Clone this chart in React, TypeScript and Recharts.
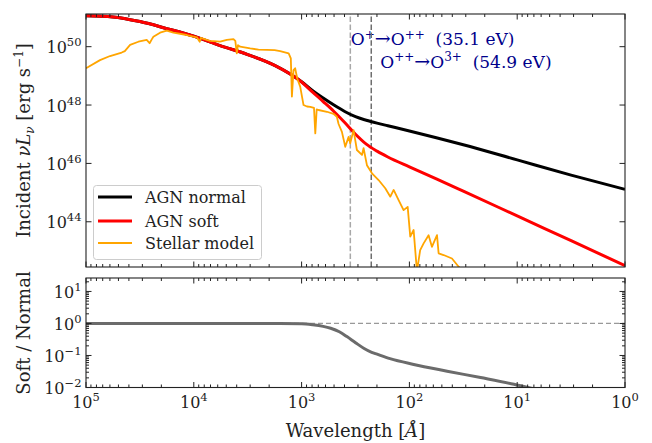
import React from "react";
import { LineChart, Line, XAxis, YAxis, ReferenceLine, Legend } from "recharts";

const FONT = "'DejaVu Serif', serif";

// log10 wavelength [Å] and log10 nuL_nu [erg/s]
const agnLogWave = [5.0, 4.75, 4.5, 4.25, 4.0, 3.75, 3.5, 3.25, 3.0, 2.9, 2.8, 2.7, 2.6, 2.5, 2.4, 2.3, 2.2, 2.0, 1.75, 1.5, 1.0, 0.5, 0.0];
const agnNormal = [51.06, 51.02, 50.86, 50.62, 50.36, 50.03, 49.73, 49.36, 48.8, 48.5, 48.24, 48.0, 47.78, 47.6, 47.48, 47.38, 47.29, 47.11, 46.88, 46.64, 46.12, 45.6, 45.11];
const agnSoft = [51.06, 51.02, 50.86, 50.62, 50.36, 50.03, 49.73, 49.36, 48.79, 48.45, 48.12, 47.78, 47.4, 47.0, 46.66, 46.42, 46.22, 45.88, 45.47, 45.05, 44.2, 43.35, 42.5];

const stellarLogWave = [5.0, 4.87, 4.777, 4.669, 4.64, 4.591, 4.514, 4.437, 4.41, 4.39, 4.375, 4.313, 4.251, 4.189, 4.065, 3.972, 3.945, 3.935, 3.879, 3.849, 3.755, 3.694, 3.632, 3.615, 3.601, 3.59, 3.57, 3.477, 3.4, 3.322, 3.25, 3.199, 3.12, 3.1, 3.09, 3.075, 3.06, 3.04, 3.013, 2.982, 2.95, 2.92, 2.885, 2.873, 2.86, 2.843, 2.765, 2.704, 2.673, 2.657, 2.626, 2.595, 2.564, 2.549, 2.518, 2.487, 2.44, 2.425, 2.394, 2.347, 2.286, 2.224, 2.177, 2.146, 2.1, 2.054, 2.016, 1.992, 1.961, 1.93, 1.9, 1.868, 1.822, 1.791, 1.744, 1.729, 1.683, 1.605, 1.543, 1.45];
const stellarLogL = [49.26, 49.54, 49.68, 49.8, 49.85, 50.06, 50.17, 50.23, 50.12, 50.25, 50.34, 50.48, 50.55, 50.48, 50.4, 50.32, 50.17, 50.3, 50.23, 50.2, 50.17, 50.23, 50.26, 50.2, 49.77, 50.05, 50.0, 49.94, 49.9, 49.89, 49.88, 49.85, 49.77, 49.6, 48.29, 49.2, 49.26, 48.9, 48.63, 48.0, 47.95, 47.94, 47.9, 47.03, 47.85, 47.83, 47.77, 47.7, 47.6, 47.35, 47.08, 46.57, 46.91, 46.69, 47.14, 46.46, 46.29, 46.52, 45.94, 45.66, 45.43, 45.15, 44.86, 45.09, 44.74, 44.4, 44.51, 43.49, 43.72, 42.3, 43.03, 43.26, 43.54, 43.14, 43.54, 42.92, 42.86, 42.74, 42.46, 42.1];

// soft / normal ratio (log10)
const ratioLogWave = [5.0, 4.0, 3.5, 3.2, 3.0, 2.9, 2.8, 2.73, 2.65, 2.58, 2.5, 2.42, 2.35, 2.3, 2.18, 1.96, 1.65, 1.34, 1.03, 0.9, 0.5, 0.0];
const ratioLog = [0, 0, 0, 0, -0.01, -0.04, -0.09, -0.15, -0.26, -0.41, -0.6, -0.78, -0.9, -0.96, -1.1, -1.28, -1.49, -1.69, -1.9, -2.0, -2.25, -2.6];

// ionisation edges
const edgeEnergies = [35.1, 54.9];
const HC = 12398.4; // eV Å

const seriesNames = ["AGN normal", "AGN soft", "Stellar model"];
const seriesColors = ["#000000", "#ff0000", "#ffa500"];

const toSeries = (lw: number[], ly: number[]) =>
  lw.map((w, i) => ({ wave: 10 ** w, value: 10 ** ly[i] }));

const normalData = toSeries(agnLogWave, agnNormal);
const softData = toSeries(agnLogWave, agnSoft);
const stellarData = toSeries(stellarLogWave, stellarLogL);
const ratioData = toSeries(ratioLogWave, ratioLog);

const xMajor = [1e5, 1e4, 1e3, 1e2, 1e1, 1];
const xTicks: number[] = [...xMajor];
for (let n = 0; n < 5; n++) for (let m = 2; m <= 9; m++) xTicks.push(m * 10 ** n);

const topYTicks = [1e44, 1e46, 1e48, 1e50];
const botYMajor = [1e-2, 1e-1, 1, 10];
const botYTicks: number[] = [...botYMajor];
for (let n = -2; n <= 1; n++) for (let m = 2; m <= 9; m++) if (m * 10 ** n < 26) botYTicks.push(m * 10 ** n);

const xDomain = [1, 1e5];
const topYDomain = [10 ** 42.45, 10 ** 51.12];
const botYDomain = [1e-2, 10 ** 1.42];

const expText = (v: number) => {
  const e = Math.round(Math.log10(v));
  return e < 0 ? "\u2212" + -e : String(e);
};

const makeTick = (side: "bottom" | "top" | "left" | "right", label: boolean) => (props: any) => {
  const { x, y, payload } = props;
  const v = payload.value;
  const e = Math.log10(v);
  const major = Math.abs(e - Math.round(e)) < 1e-6;
  const len = major ? 5.5 : 3;
  const st = { stroke: "#222", strokeWidth: 1 };
  let ln;
  if (side === "bottom") ln = <line x1={x} x2={x} y1={y} y2={y - len} {...st} />;
  else if (side === "top") ln = <line x1={x} x2={x} y1={y} y2={y + len} {...st} />;
  else if (side === "left") ln = <line x1={x} x2={x + len} y1={y} y2={y} {...st} />;
  else ln = <line x1={x} x2={x - len} y1={y} y2={y} {...st} />;
  let txt = null;
  if (label && major) {
    if (side === "bottom")
      txt = (
        <text x={x} y={y + 20.5} textAnchor="middle" fontFamily={FONT} fontSize={16} fill="#222">
          10<tspan dy={-7} fontSize={11.5}>{expText(v)}</tspan>
        </text>
      );
    else
      txt = (
        <text x={x - 4.5} y={y + 6.5} textAnchor="end" fontFamily={FONT} fontSize={16} fill="#222">
          10<tspan dy={-7} fontSize={11.5}>{expText(v)}</tspan>
        </text>
      );
  }
  return (
    <g>
      {ln}
      {txt}
    </g>
  );
};

const edgeLabel = (i: number) => (p: any) => {
  const vb = p.viewBox || {};
  const dx = i === 0 ? 0.5 : 9;
  const dy = i === 0 ? 31 : 53.7;
  const [a, b] = i === 0 ? ["+", "++"] : ["++", "3+"];
  return (
    <text x={vb.x + dx} y={vb.y + dy} fontFamily={FONT} fontSize={17} fill="darkblue">
      O<tspan dy={-6.5} fontSize={12}>{a}</tspan>
      <tspan dy={6.5} fontSize={19}>{"\u2192"}</tspan>
      <tspan>O</tspan>
      <tspan dy={-6.5} fontSize={12}>{b}</tspan>
      <tspan dy={6.5}>{`\u00a0 (${edgeEnergies[i]} eV)`}</tspan>
    </text>
  );
};

const LegendBox = () => (
  <svg width={170} height={76} style={{ display: "block" }}>
    <rect x={0.5} y={0.5} width={168} height={74} rx={3} fill="#fff" fillOpacity={0.8} stroke="#cccccc" />
    {seriesNames.map((n, i) => {
      const cy = [12, 36, 58][i];
      return (
        <g key={n}>
          <line x1={5} x2={39} y1={cy} y2={cy} stroke={seriesColors[i]} strokeWidth={i === 2 ? 2 : 3} />
          <text x={52} y={cy + 5.5} fontFamily={FONT} fontSize={16} fill="#222">
            {n}
          </text>
        </g>
      );
    })}
  </svg>
);

const axisCommon = { tickSize: 0, tickMargin: 0, tickLine: false, axisLine: false, interval: 0 as const, allowDataOverflow: true };

export default function App() {
  return (
    <div style={{ position: "absolute", left: 0, top: 0, width: 652, height: 443, background: "#fff" }}>
      <div style={{ position: "absolute", left: 0, top: 0 }}>
        <LineChart width={652} height={272} margin={{ top: 13, right: 26, bottom: 4, left: 85 }}>
          <XAxis type="number" dataKey="wave" scale="log" domain={xDomain} reversed ticks={xTicks} height={1}
            {...axisCommon} tick={makeTick("bottom", false)} />
          <XAxis xAxisId="top" orientation="top" type="number" dataKey="wave" scale="log" domain={xDomain} reversed
            ticks={xTicks} height={1} {...axisCommon} tick={makeTick("top", false)} />
          <YAxis type="number" scale="log" domain={topYDomain} ticks={topYTicks} width={1}
            {...axisCommon} tick={makeTick("left", true)} />
          <YAxis yAxisId="right" orientation="right" type="number" scale="log" domain={topYDomain} ticks={topYTicks}
            width={1} {...axisCommon} tick={makeTick("right", false)} />
          {edgeEnergies.map((E, i) => (
            <ReferenceLine key={E} x={HC / E} stroke={i === 0 ? "#a8a8a8" : "#6e6e6e"} strokeWidth={1.5}
              strokeDasharray="5.5 2.4" label={edgeLabel(i)} />
          ))}
          <Line data={normalData} dataKey="value" name={seriesNames[0]} type="monotoneX" stroke={seriesColors[0]}
            strokeWidth={3} dot={false} isAnimationActive={false} />
          <Line data={softData} dataKey="value" name={seriesNames[1]} type="monotoneX" stroke={seriesColors[1]}
            strokeWidth={3} dot={false} isAnimationActive={false} />
          <Line data={stellarData} dataKey="value" name={seriesNames[2]} stroke={seriesColors[2]} strokeWidth={1.8}
            strokeLinejoin="round" dot={false} isAnimationActive={false} />
          <Legend layout="vertical" align="center" verticalAlign="middle" content={() => <LegendBox />}
            wrapperStyle={{ left: 93, top: 185, width: 170, height: 76 }} />
        </LineChart>
      </div>
      <div style={{ position: "absolute", left: 0, top: 272 }}>
        <LineChart width={652} height={171} margin={{ top: 5, right: 26, bottom: 54.5, left: 85 }}>
          <XAxis type="number" dataKey="wave" scale="log" domain={xDomain} reversed ticks={xTicks} height={1}
            {...axisCommon} tick={makeTick("bottom", true)} />
          <XAxis xAxisId="top" orientation="top" type="number" dataKey="wave" scale="log" domain={xDomain} reversed
            ticks={xTicks} height={1} {...axisCommon} tick={makeTick("top", false)} />
          <YAxis type="number" scale="log" domain={botYDomain} ticks={botYTicks} width={1}
            {...axisCommon} tick={makeTick("left", true)} />
          <YAxis yAxisId="right" orientation="right" type="number" scale="log" domain={botYDomain} ticks={botYTicks}
            width={1} {...axisCommon} tick={makeTick("right", false)} />
          <ReferenceLine y={1} stroke="#999" strokeWidth={1.2} strokeDasharray="5 3" />
          <Line data={ratioData} dataKey="value" name="Soft / Normal" type="monotoneX" stroke="#6b6b6b"
            strokeWidth={3} dot={false} isAnimationActive={false} />
        </LineChart>
      </div>
      <svg width={652} height={443} style={{ position: "absolute", left: 0, top: 0, pointerEvents: "none" }}>
        <rect x={86} y={14} width={539} height={253} fill="none" stroke="#222" strokeWidth={1.1} />
        <rect x={86} y={278} width={539} height={109.5} fill="none" stroke="#222" strokeWidth={1.1} />
        <text transform="rotate(-90)" x={-140.5} y={30} textAnchor="middle" fontFamily={FONT} fontSize={18} fill="#222">
          Incident <tspan fontStyle="italic">νL</tspan>
          <tspan dy={4} fontSize={12} fontStyle="italic">ν</tspan>
          <tspan dy={-4}>{" [erg s"}</tspan>
          <tspan dy={-7} fontSize={12}>−1</tspan>
          <tspan dy={7}>]</tspan>
        </text>
        <text transform="rotate(-90)" x={-333} y={30} textAnchor="middle" fontFamily={FONT} fontSize={18} fill="#222">
          Soft / Normal
        </text>
        <text x={355.5} y={436.5} textAnchor="middle" fontFamily={FONT} fontSize={18} fill="#222">
          Wavelength [<tspan fontStyle="italic">Å</tspan>]
        </text>
      </svg>
    </div>
  );
}
